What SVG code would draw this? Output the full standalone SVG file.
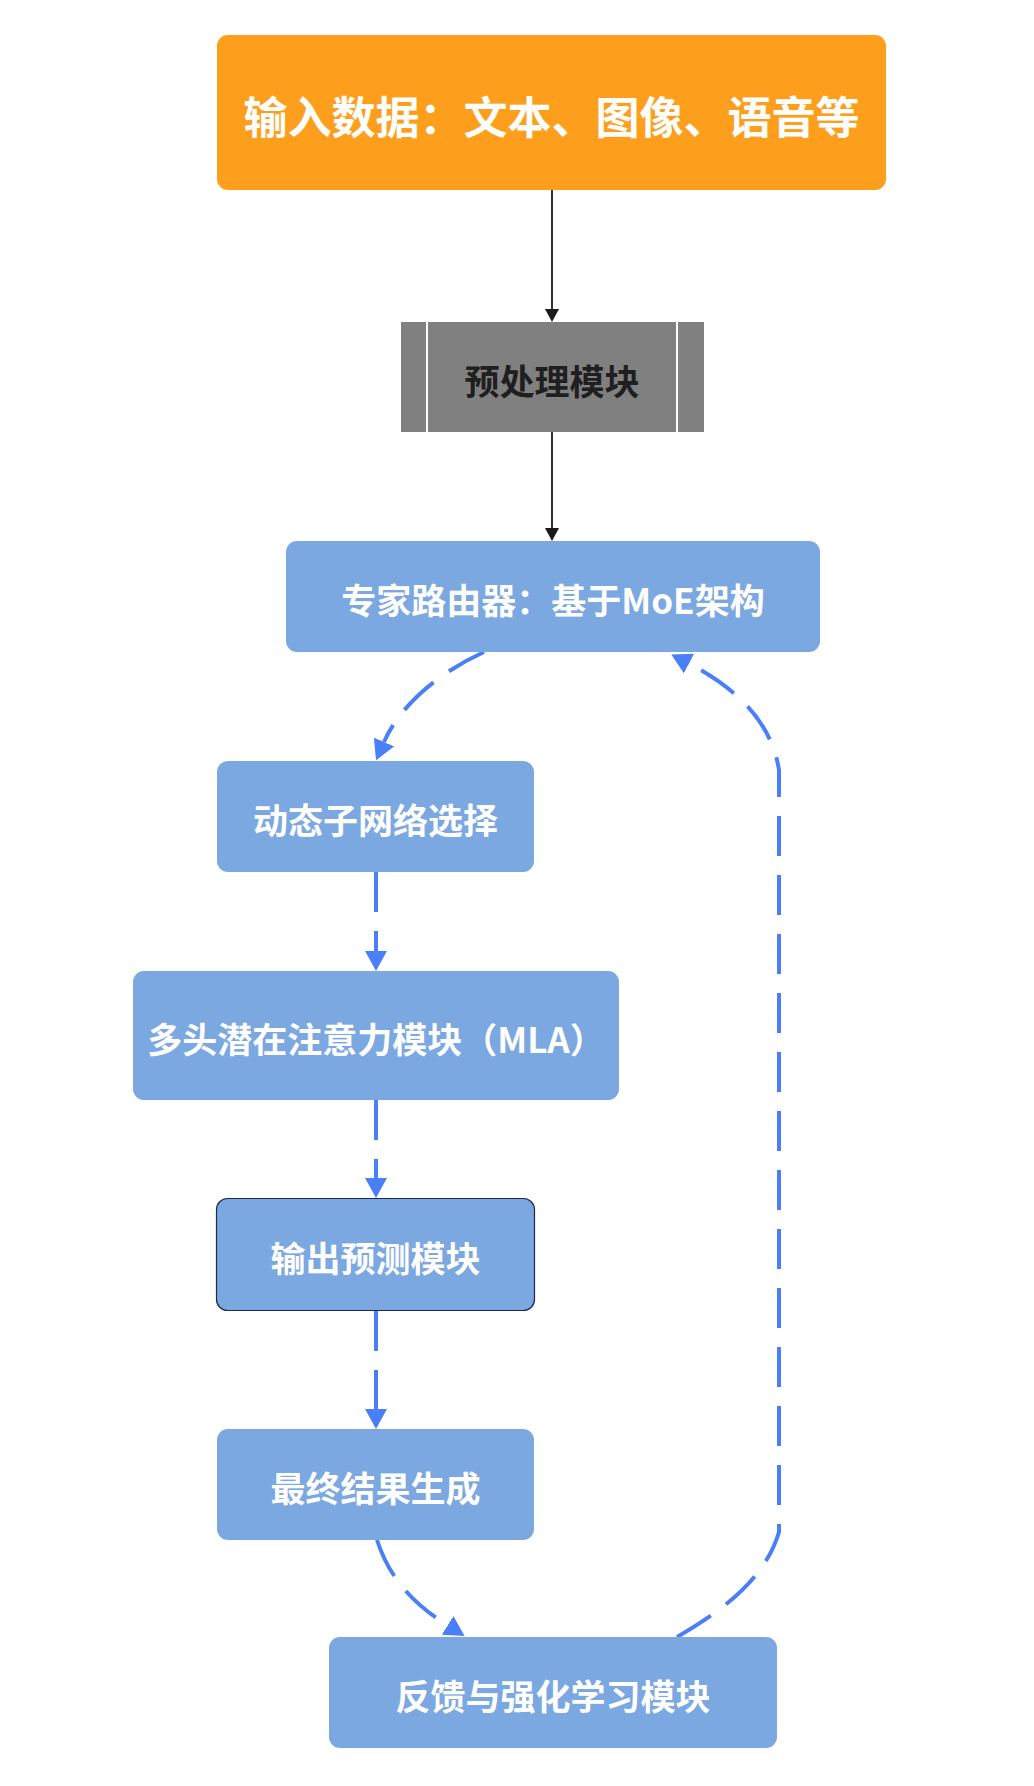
<svg xmlns="http://www.w3.org/2000/svg" width="1034" height="1786" viewBox="0 0 1034 1786">
  <style>
    .lbl { font-family: "Noto Sans CJK SC", "Noto Sans", sans-serif; font-weight: 700; text-anchor: middle; dominant-baseline: central; fill: #ffffff; }
    .blue { fill: #7BA8E0; }
    .flow { fill: none; stroke: #4A7FF7; stroke-width: 4; stroke-dasharray: 40 19; }
    .solid { fill: none; stroke: #1a1a1a; stroke-width: 1.8; }
  </style>
  <defs>
    <marker id="arrowBlue" markerUnits="userSpaceOnUse" markerWidth="20" markerHeight="22" viewBox="0 0 20 22" refX="0" refY="11" orient="auto">
      <path d="M0,0 L20,11 L0,22 Z" fill="#4A7FF7"/>
    </marker>
    <marker id="arrowBlack" markerUnits="userSpaceOnUse" markerWidth="13" markerHeight="14" viewBox="0 0 13 14" refX="0" refY="7" orient="auto">
      <path d="M0,0 L13,7 L0,14 Z" fill="#1a1a1a"/>
    </marker>
  </defs>
  <rect width="1034" height="1786" fill="#ffffff"/>

  <g id="connectors">
    <path class="solid" d="M552,190 L552,309" marker-end="url(#arrowBlack)"/>
    <path class="solid" d="M552,432 L552,528" marker-end="url(#arrowBlack)"/>
    <path class="flow" d="M484,652 C440,672 400,705 384,742" marker-end="url(#arrowBlue)"/>
    <path class="flow" d="M376,872 L376,951" marker-end="url(#arrowBlue)"/>
    <path class="flow" d="M376,1100 L376,1178" marker-end="url(#arrowBlue)"/>
    <path class="flow" d="M376,1311 L376,1409" marker-end="url(#arrowBlue)"/>
    <path class="flow" d="M377,1540 C390,1580 415,1605 447.6,1625.4" marker-end="url(#arrowBlue)"/>
    <path class="flow" d="M677,1637 C720,1612 765,1580 779,1532 L779,770 C772,725 740,690 689,663.6" marker-end="url(#arrowBlue)"/>
  </g>

  <g id="input">
    <rect x="217" y="35" width="669" height="155" rx="11" fill="#FD9F1D"/>
    <text class="lbl" x="551.5" y="115" font-size="44">输入数据：文本、图像、语音等</text>
  </g>

  <g id="preprocess">
    <rect x="401" y="322" width="303" height="110" fill="#808080"/>
    <line x1="427" y1="322" x2="427" y2="432" stroke="#ffffff" stroke-width="2"/>
    <line x1="677" y1="322" x2="677" y2="432" stroke="#ffffff" stroke-width="2"/>
    <text class="lbl" x="552" y="379" font-size="35" style="fill:#1f1f1f">预处理模块</text>
  </g>

  <g id="router">
    <rect class="blue" x="286" y="541" width="534" height="111" rx="11"/>
    <text class="lbl" x="553" y="598" font-size="35">专家路由器：基于MoE架构</text>
  </g>

  <g id="dynamic">
    <rect class="blue" x="217" y="761" width="317" height="111" rx="11"/>
    <text class="lbl" x="375.5" y="818" font-size="35">动态子网络选择</text>
  </g>

  <g id="mla">
    <rect class="blue" x="133" y="971" width="486" height="129" rx="11"/>
    <text class="lbl" x="376" y="1037" font-size="35">多头潜在注意力模块（MLA）</text>
  </g>

  <g id="output">
    <rect class="blue" x="216.5" y="1198.5" width="318" height="112" rx="11" stroke="#1b2a4e" stroke-width="1.2"/>
    <text class="lbl" x="375.5" y="1256" font-size="35">输出预测模块</text>
  </g>

  <g id="result">
    <rect class="blue" x="217" y="1429" width="317" height="111" rx="11"/>
    <text class="lbl" x="375.5" y="1486" font-size="35">最终结果生成</text>
  </g>

  <g id="feedback">
    <rect class="blue" x="329" y="1637" width="448" height="111" rx="11"/>
    <text class="lbl" x="553" y="1694" font-size="35">反馈与强化学习模块</text>
  </g>
</svg>
